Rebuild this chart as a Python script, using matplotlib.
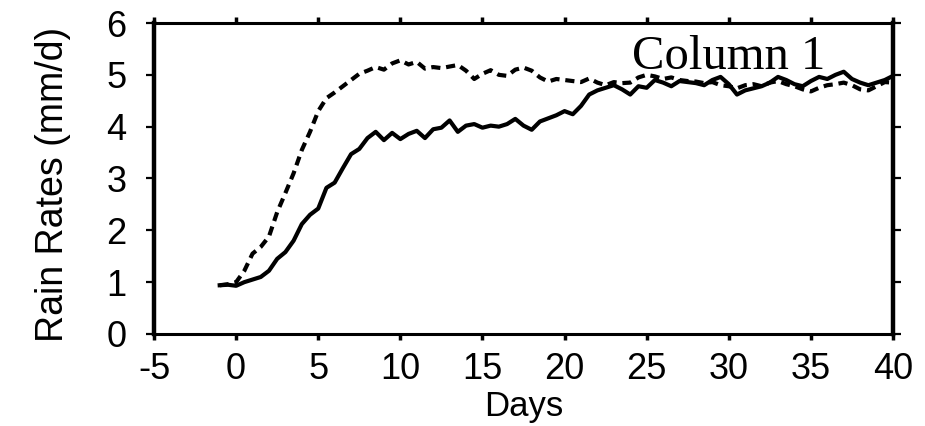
import matplotlib
matplotlib.use("Agg")
import matplotlib.pyplot as plt
import numpy as np

plt.rcParams['font.family'] = ['Liberation Sans', 'DejaVu Sans']
plt.rcParams['axes.unicode_minus'] = False

# days, every half day from -1 to 40
days = np.arange(-1, 40.01, 0.5)

# solid line
rain_solid = [0.94, 0.95, 0.93, 1.00, 1.05, 1.10, 1.22, 1.45, 1.58, 1.80,
              2.12, 2.30, 2.42, 2.82, 2.92, 3.20, 3.47, 3.57, 3.78, 3.90,
              3.74, 3.88, 3.76, 3.86, 3.92, 3.78, 3.95, 3.98, 4.12, 3.90,
              4.02, 4.05, 3.98, 4.02, 4.00, 4.05, 4.15, 4.02, 3.94, 4.10,
              4.16, 4.22, 4.30, 4.24, 4.40, 4.62, 4.70, 4.75, 4.80, 4.72,
              4.62, 4.78, 4.75, 4.90, 4.85, 4.78, 4.88, 4.86, 4.84, 4.80,
              4.90, 4.96, 4.82, 4.62, 4.70, 4.74, 4.78, 4.85, 4.96, 4.90,
              4.82, 4.78, 4.88, 4.96, 4.92, 5.00, 5.06, 4.92, 4.85, 4.80,
              4.85, 4.90, 4.98]

# dashed line
rain_dashed = [0.94, 0.96, 1.00, 1.22, 1.55, 1.68, 1.88, 2.35, 2.72, 3.10,
               3.55, 3.90, 4.30, 4.55, 4.66, 4.78, 4.90, 5.02, 5.08, 5.15,
               5.10, 5.22, 5.28, 5.20, 5.25, 5.12, 5.15, 5.13, 5.16, 5.19,
               5.08, 4.92, 5.02, 5.09, 5.00, 4.98, 5.10, 5.14, 5.08, 4.95,
               4.87, 4.92, 4.90, 4.88, 4.86, 4.93, 4.85, 4.80, 4.86, 4.84,
               4.85, 4.95, 5.00, 4.97, 4.92, 4.95, 4.90, 4.88, 4.87, 4.84,
               4.86, 4.80, 4.78, 4.74, 4.80, 4.82, 4.78, 4.85, 4.88, 4.82,
               4.78, 4.72, 4.68, 4.75, 4.80, 4.82, 4.85, 4.80, 4.72, 4.70,
               4.78, 4.86, 4.85]

xticks = np.arange(-5, 41, 5)
yticks = np.arange(0, 7, 1)

fig = plt.figure(figsize=(9.25, 4.26), dpi=100)
ax = fig.add_axes([0.1665, 0.216, 0.7989, 0.730])

ax.plot(days, rain_dashed, color='black', lw=3, dashes=(2.2, 1.4))
ax.plot(days, rain_solid, color='black', lw=3)

ax.set_xlim(-5, 40)
ax.set_ylim(0, 6)
ax.set_xticks(xticks)
ax.set_yticks(yticks)

for side in ['left', 'right']:
    ax.spines[side].set_linewidth(3.2)
for side in ['top', 'bottom']:
    ax.spines[side].set_linewidth(2.2)

ax.tick_params(axis='x', direction='out', length=4, width=2.5, pad=9,
               labelsize=26, top=True)
ax.tick_params(axis='y', direction='out', length=6, width=1.6, pad=14,
               labelsize=26, right=True)

ax.set_xlabel('Days', fontsize=25, labelpad=2)
ax.set_ylabel('Rain Rates (mm/d)', fontsize=27)
ax.yaxis.set_label_coords(-0.112, 0.48)

ax.text(30, 5.11, 'Column 1', family=['Liberation Serif', 'DejaVu Serif'],
        fontsize=35, ha='center', va='baseline')

fig.savefig('out.png', dpi=100)
